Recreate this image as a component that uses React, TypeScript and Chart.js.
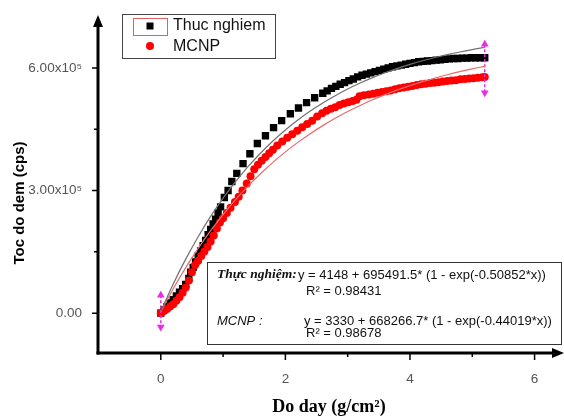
import React, { useEffect, useRef } from "react";
import { Chart, registerables } from "chart.js";
Chart.register(...registerables);

// Thuc nghiem (experimental) data
const expX = [0, 0.05, 0.1, 0.15, 0.2, 0.25, 0.3, 0.35, 0.4, 0.45, 0.48, 0.52, 0.56, 0.6, 0.64, 0.68, 0.72, 0.76, 0.8, 0.84, 0.88, 0.92, 0.96, 1.02, 1.08, 1.14, 1.22, 1.32, 1.43, 1.55, 1.68, 1.81, 1.94, 2.08, 2.21, 2.34, 2.47, 2.6, 2.67, 2.74, 2.81, 2.88, 2.95, 3.02, 3.09, 3.16, 3.23, 3.3, 3.37, 3.44, 3.51, 3.58, 3.65, 3.72, 3.79, 3.86, 3.93, 4.0, 4.07, 4.14, 4.21, 4.28, 4.35, 4.42, 4.49, 4.56, 4.63, 4.7, 4.77, 4.84, 4.91, 4.98, 5.05, 5.12, 5.2];
const expY = [0, 8000, 16000, 25000, 33000, 42000, 51000, 60000, 70000, 85000, 100000, 112000, 125000, 140000, 152000, 165000, 178000, 192000, 205000, 218000, 230000, 245000, 260000, 283000, 300000, 322000, 342000, 366000, 390000, 415000, 434000, 454000, 471000, 488000, 502000, 515000, 527000, 538000, 544000, 550000, 555000, 560000, 564000, 569000, 573000, 578000, 582000, 585000, 588000, 591000, 594000, 597000, 600000, 603000, 605000, 607000, 609000, 611000, 613000, 615000, 616000, 617000, 618000, 619000, 620000, 621000, 622000, 623000, 623000, 624000, 624000, 625000, 625000, 625000, 625000];

// MCNP data
const mcnpX = [0, 0.05, 0.1, 0.15, 0.2, 0.25, 0.3, 0.35, 0.4, 0.45, 0.5, 0.55, 0.6, 0.65, 0.7, 0.75, 0.8, 0.85, 0.9, 0.95, 1.0, 1.06, 1.12, 1.19, 1.25, 1.31, 1.38, 1.44, 1.5, 1.56, 1.62, 1.68, 1.74, 1.8, 1.87, 1.95, 2.03, 2.11, 2.19, 2.27, 2.35, 2.43, 2.51, 2.59, 2.66, 2.73, 2.8, 2.87, 2.94, 3.01, 3.08, 3.14, 3.19, 3.26, 3.34, 3.41, 3.48, 3.55, 3.62, 3.69, 3.76, 3.83, 3.9, 3.97, 4.04, 4.11, 4.18, 4.25, 4.32, 4.39, 4.46, 4.53, 4.6, 4.67, 4.74, 4.81, 4.88, 4.95, 5.02, 5.09, 5.16, 5.2];
const mcnpY = [0, 5000, 10000, 16000, 22000, 30000, 39000, 50000, 63000, 80000, 100000, 118000, 128000, 140000, 151000, 162000, 175000, 190000, 207000, 222000, 232000, 245000, 258000, 272000, 285000, 300000, 317000, 335000, 352000, 363000, 373000, 382000, 391000, 400000, 410000, 420000, 429000, 438000, 446000, 455000, 463000, 471000, 481000, 489000, 495000, 500000, 504000, 509000, 513000, 516000, 519000, 522000, 531000, 533000, 535000, 537000, 539000, 541000, 543000, 545000, 548000, 550000, 552000, 554000, 556000, 558000, 560000, 561000, 563000, 564000, 565000, 567000, 568000, 569000, 570000, 572000, 573000, 574000, 575000, 576000, 577000, 578000];

// Fitted curves (as drawn)
const fitX = [0, 0.2, 0.4, 0.6, 0.8, 1.0, 1.2, 1.4, 1.6, 1.8, 2.0, 2.2, 2.4, 2.6, 2.8, 3.0, 3.2, 3.4, 3.6, 3.8, 4.0, 4.2, 4.4, 4.6, 4.8, 5.0, 5.2];
const expFitY = [4148, 71402, 132118, 187062, 236581, 281371, 321848, 358362, 391328, 421165, 448147, 472422, 494400, 514221, 532165, 548370, 562975, 576190, 588152, 598932, 608669, 617502, 625431, 632594, 639062, 644904, 650190];
const mcnpFitY = [3330, 59665, 111255, 158435, 201672, 241300, 277520, 310733, 341139, 369005, 394533, 417856, 439240, 458821, 476730, 493170, 508205, 521972, 534602, 546163, 556722, 566411, 575233, 583385, 590803, 597620, 603834];

// Fit range markers
const rangeX = [0, 5.2];
const rangeTopY = [44000, 658000];
const rangeBottomY = [-34000, 539000];

// Axes
const xTicks = [0, 2, 4, 6];
const xTickLabels = ["0", "2", "4", "6"];
const yTicks = [0, 300000, 600000];
const yTickLabels = ["0.00", "3.00x10\u2075", "6.00x10\u2075"];
const xMinorTicks = [1, 3, 5];
const yMinorTicks = [150000, 450000];

const legendLabels = ["Thuc nghiem", "MCNP"];
const eqLabels = ["Th\u1ef1c nghi\u1ec7m:", "MCNP :"];
const eqTexts = ["y = 4148 + 695491.5* (1 - exp(-0.50852*x))", "y = 3330 + 668266.7* (1 - exp(-0.44019*x))"];
const r2Texts = ["R\u00b2 = 0.98431", "R\u00b2 = 0.98678"];
const xTitle = "Do day (g/cm\u00b2)";
const yTitle = "Toc do dem (cps)";

const pts = (xs: number[], ys: number[]) => xs.map((x, i) => ({ x, y: ys[i] }));

const decor = {
  id: "decor",
  afterDraw(chart: any) {
    const ctx: CanvasRenderingContext2D = chart.ctx;
    const xs = chart.scales.x;
    const ys = chart.scales.y;
    const ca = chart.chartArea;
    ctx.save();
    const ax = ca.left;
    const ay = ca.bottom;
    ctx.strokeStyle = "#000";
    ctx.fillStyle = "#000";
    ctx.lineWidth = 3;
    // y axis
    ctx.beginPath();
    ctx.moveTo(ax, ay + 1.5);
    ctx.lineTo(ax, ca.top + 8);
    ctx.stroke();
    ctx.beginPath();
    ctx.moveTo(ax, ca.top - 1);
    ctx.lineTo(ax - 5, ca.top + 11);
    ctx.lineTo(ax + 5, ca.top + 11);
    ctx.closePath();
    ctx.fill();
    // x axis
    ctx.beginPath();
    ctx.moveTo(ax - 1.5, ay);
    ctx.lineTo(chart.width - 8, ay);
    ctx.stroke();
    ctx.beginPath();
    ctx.moveTo(chart.width, ay);
    ctx.lineTo(chart.width - 12, ay - 5);
    ctx.lineTo(chart.width - 12, ay + 5);
    ctx.closePath();
    ctx.fill();
    // ticks
    ctx.lineWidth = 1.5;
    ctx.beginPath();
    xTicks.forEach((v) => {
      const p = xs.getPixelForValue(v);
      ctx.moveTo(p, ay);
      ctx.lineTo(p, ay + 7);
    });
    xMinorTicks.forEach((v) => {
      const p = xs.getPixelForValue(v);
      ctx.moveTo(p, ay);
      ctx.lineTo(p, ay + 4);
    });
    yTicks.forEach((v) => {
      const p = ys.getPixelForValue(v);
      ctx.moveTo(ax, p);
      ctx.lineTo(ax - 6, p);
    });
    yMinorTicks.forEach((v) => {
      const p = ys.getPixelForValue(v);
      ctx.moveTo(ax, p);
      ctx.lineTo(ax - 4, p);
    });
    ctx.stroke();

    // legend
    ctx.fillStyle = "#fff";
    ctx.fillRect(122, 14, 153, 44);
    ctx.strokeStyle = "#444";
    ctx.lineWidth = 1;
    ctx.strokeRect(122.5, 14.5, 153, 44);
    ctx.strokeStyle = "#e06060";
    ctx.strokeRect(133.5, 18.5, 34, 17);
    ctx.fillStyle = "#000";
    ctx.fillRect(146.5, 22.5, 7, 7);
    ctx.fillStyle = "#ff0000";
    ctx.beginPath();
    ctx.arc(150, 46, 4, 0, Math.PI * 2);
    ctx.fill();
    ctx.fillStyle = "#111";
    ctx.font = '16px "Liberation Sans", Arial, sans-serif';
    ctx.textBaseline = "middle";
    ctx.textAlign = "left";
    ctx.fillText(legendLabels[0], 173, 26);
    ctx.fillText(legendLabels[1], 173, 47);

    // equation box
    ctx.fillStyle = "#fff";
    ctx.fillRect(207, 262, 355, 82);
    ctx.strokeStyle = "#333";
    ctx.strokeRect(207.5, 262.5, 354, 82);
    ctx.fillStyle = "#111";
    ctx.font = 'italic bold 13.5px "Liberation Serif", "Times New Roman", serif';
    ctx.fillText(eqLabels[0], 217, 275);
    ctx.font = 'italic 13px "Liberation Sans", Arial, sans-serif';
    ctx.fillText(eqLabels[1], 217, 321);
    ctx.font = '13px "Liberation Sans", Arial, sans-serif';
    ctx.fillText(eqTexts[0], 298, 275);
    ctx.fillText(r2Texts[0], 306, 291);
    ctx.fillText(eqTexts[1], 304, 321);
    ctx.fillText(r2Texts[1], 306, 333);

    // titles
    ctx.fillStyle = "#000";
    ctx.font = 'bold 18px "Liberation Serif", "Times New Roman", serif';
    ctx.textAlign = "center";
    ctx.fillText(xTitle, 329, 407);
    ctx.save();
    ctx.translate(20, 203);
    ctx.rotate(-Math.PI / 2);
    ctx.font = 'bold 15px "Liberation Sans", Arial, sans-serif';
    ctx.fillText(yTitle, 0, 0);
    ctx.restore();
    ctx.restore();
  },
};

export default function App() {
  const ref = useRef<HTMLCanvasElement>(null);
  useEffect(() => {
    document.body.style.margin = "0";
    const canvas = ref.current!;
    const chart = new Chart(canvas, {
      type: "scatter",
      data: {
        datasets: [
          {
            label: "fitExp",
            data: pts(fitX, expFitY),
            showLine: true,
            borderColor: "#707070",
            borderWidth: 1.2,
            pointRadius: 0,
            tension: 0.4,
          },
          {
            label: "fitMcnp",
            data: pts(fitX, mcnpFitY),
            showLine: true,
            borderColor: "#e86a6a",
            borderWidth: 1.2,
            pointRadius: 0,
            tension: 0.4,
          },
          {
            label: "range0",
            data: [
              { x: rangeX[0], y: rangeTopY[0] },
              { x: rangeX[0], y: rangeBottomY[0] },
            ],
            showLine: true,
            borderColor: "#e62ee6",
            backgroundColor: "#e62ee6",
            borderWidth: 1.5,
            borderDash: [3, 2],
            pointStyle: "triangle",
            pointRadius: 3,
            rotation: [0, 180] as any,
          },
          {
            label: "range1",
            data: [
              { x: rangeX[1], y: rangeTopY[1] },
              { x: rangeX[1], y: rangeBottomY[1] },
            ],
            showLine: true,
            borderColor: "#e62ee6",
            backgroundColor: "#e62ee6",
            borderWidth: 1.5,
            borderDash: [3, 2],
            pointStyle: "triangle",
            pointRadius: 3,
            rotation: [0, 180] as any,
          },
          {
            label: legendLabels[1],
            data: pts(mcnpX, mcnpY),
            pointStyle: "circle",
            pointRadius: 4,
            backgroundColor: "#ff0000",
            borderWidth: 0,
          },
          {
            label: legendLabels[0],
            data: pts(expX, expY),
            pointStyle: "rect",
            pointRadius: 5.2,
            backgroundColor: "#000",
            borderWidth: 0,
          },
        ],
      },
      options: {
        animation: false,
        responsive: false,
        devicePixelRatio: 1,
        layout: { padding: { left: 0, top: 15, right: 4, bottom: 0 } },
        plugins: { legend: { display: false }, tooltip: { enabled: false } },
        scales: {
          x: {
            type: "linear",
            min: -1.008,
            max: 6.384,
            grid: { display: false },
            border: { display: false },
            afterBuildTicks: (s: any) => {
              s.ticks = xTicks.map((v) => ({ value: v }));
            },
            afterFit: (s: any) => {
              s.height = 64;
            },
            ticks: {
              padding: 10,
              color: "#555",
              font: { family: '"Liberation Sans", Arial, sans-serif', size: 13.5 },
              callback: (v: any) => {
                const i = xTicks.indexOf(Number(v));
                return i >= 0 ? xTickLabels[i] : "";
              },
            },
          },
          y: {
            type: "linear",
            min: -97560,
            max: 726830,
            grid: { display: false },
            border: { display: false },
            afterBuildTicks: (s: any) => {
              s.ticks = yTicks.map((v) => ({ value: v }));
            },
            afterFit: (s: any) => {
              s.width = 98;
            },
            ticks: {
              padding: 8,
              color: "#555",
              font: { family: '"Liberation Sans", Arial, sans-serif', size: 13.5 },
              callback: (v: any) => {
                const i = yTicks.indexOf(Number(v));
                return i >= 0 ? yTickLabels[i] : "";
              },
            },
          },
        },
      },
      plugins: [decor],
    });
    return () => chart.destroy();
  }, []);
  return (
    <div style={{ width: 564, height: 417 }}>
      <canvas ref={ref} width={564} height={417} style={{ display: "block" }} />
    </div>
  );
}
